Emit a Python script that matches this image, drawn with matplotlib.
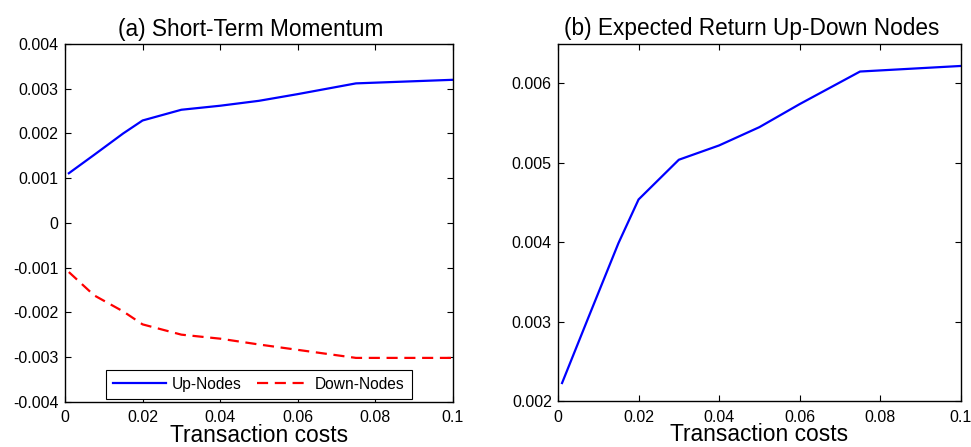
import numpy as np
import matplotlib
matplotlib.use("Agg")
import matplotlib.pyplot as plt
from matplotlib.ticker import FuncFormatter

plt.rcParams['font.family'] = ['Liberation Sans', 'DejaVu Sans']
plt.rcParams['axes.unicode_minus'] = False

# transaction cost grid
costs = [0.001, 0.0075, 0.015, 0.02, 0.03, 0.04, 0.05, 0.06, 0.075, 0.1]

# (a) short-term momentum
up_nodes = [0.00111, 0.00152, 0.00200, 0.00229, 0.00253, 0.00262, 0.00273, 0.00288, 0.00312, 0.00320]
down_nodes = [-0.00110, -0.00162, -0.00198, -0.00227, -0.00250, -0.00259, -0.00272, -0.00284, -0.00302, -0.00302]

# (b) expected return up-down nodes
up_down = [0.00223, 0.00305, 0.00399, 0.00454, 0.00504, 0.00522, 0.00545, 0.00574, 0.00615, 0.00622]

xticks = [0, 0.02, 0.04, 0.06, 0.08, 0.1]
yticks_a = [-0.004, -0.003, -0.002, -0.001, 0, 0.001, 0.002, 0.003, 0.004]
yticks_b = [0.002, 0.003, 0.004, 0.005, 0.006]

fmt = FuncFormatter(lambda v, p: '%g' % round(v, 6))

fig = plt.figure(figsize=(9.71, 4.47), dpi=100)
ax1 = fig.add_axes([0.0669, 0.1013, 0.3996, 0.8002])
ax2 = fig.add_axes([0.5747, 0.1022, 0.4147, 0.8000])


def style(ax):
    ax.tick_params(direction='in', top=True, right=True, length=4, width=0.8,
                   labelsize=11.5, pad=4.5)
    ax.tick_params(axis='x', pad=6)
    for s in ax.spines.values():
        s.set_linewidth(1.0)
    ax.xaxis.set_major_formatter(fmt)
    ax.yaxis.set_major_formatter(fmt)
    ax.set_xlim(0, 0.1)
    ax.set_xticks(xticks)
    ax.set_xlabel('Transaction costs', fontsize=16.4, labelpad=-1)


ax1.plot(costs, up_nodes, color='#0000ff', lw=1.6, label='Up-Nodes')
ax1.plot(costs, down_nodes, color='#ff0000', lw=1.6, ls=(0, (5, 3)), label='Down-Nodes')
style(ax1)
ax1.set_ylim(-0.004, 0.004)
ax1.set_yticks(yticks_a)
ax1.set_title('(a) Short-Term Momentum', fontsize=16.3, pad=6, x=0.479)
leg = ax1.legend(loc='lower center', ncol=2, fontsize=11.2, frameon=True, fancybox=False,
                 edgecolor='black', framealpha=1, borderaxespad=0.2,
                 handlelength=3.4, columnspacing=1.0, borderpad=0.45, handletextpad=0.35)
leg.get_frame().set_linewidth(0.8)

ax2.plot(costs, up_down, color='#0000ff', lw=1.6)
style(ax2)
ax2.set_ylim(0.002, 0.0065)
ax2.set_yticks(yticks_b)
ax2.set_title('(b) Expected Return Up-Down Nodes', fontsize=16.3, pad=6, x=0.4805)

fig.savefig('out.png', dpi=100)
